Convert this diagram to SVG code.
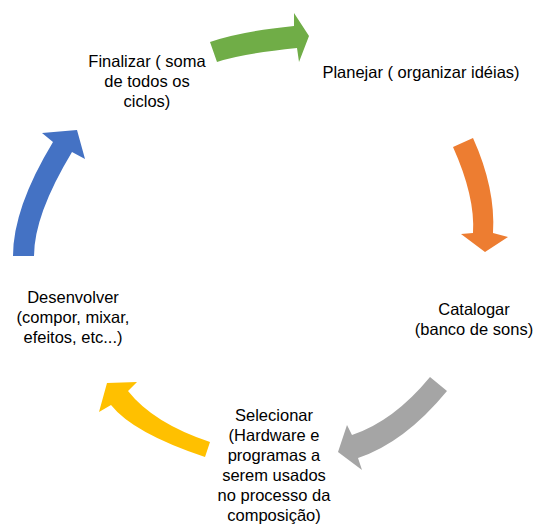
<svg xmlns="http://www.w3.org/2000/svg" width="535" height="524" viewBox="0 0 535 524">
<style>
text{font-family:"Liberation Sans",Arial,sans-serif;font-size:16.5px;fill:#000;text-anchor:middle}
.a{stroke:none}
</style>
<rect width="535" height="524" fill="#fff"/>
<g id="connectors">
<path class="a" fill="#70AD47" d="M210,42 Q240,31.5 294,26 L294,13 L309,36 L299,62 L297,48 Q240.5,53.8 217,62 Z"/>
<path class="a" fill="#ED7D31" d="M453,147 L473,138 Q495.8,188.7 493,233 L508,237 L485,252 L461,234 L473,233 Q475.3,196.6 453,147 Z"/>
<path class="a" fill="#A5A5A5" d="M430,377 L447,391 Q404.5,442.5 358,458 L362,470 L338,452 L347,425 L352,435 Q393.7,421.1 430,377 Z"/>
<path class="a" fill="#FFC000" d="M210,442 L205,457 Q133.1,433 111,405 L99,412 L107,383 L137,382 L128,391 Q153.3,423.1 210,442 Z"/>
<path class="a" fill="#4472C4" d="M13,256 L34,256 Q34,215 72,152 L85,159 L77,130 L42,133 L53,142 Q13,208 13,256 Z"/>
</g>
<g id="planejar"><text x="421" y="78">Planejar ( organizar idéias)</text></g>
<g id="catalogar"><text x="474" y="315">Catalogar</text><text x="474" y="335">(banco de sons)</text></g>
<g id="selecionar"><text x="274" y="421">Selecionar</text><text x="274" y="441">(Hardware e</text><text x="274" y="461">programas a</text><text x="274" y="481">serem usados</text><text x="274" y="501">no processo da</text><text x="274" y="521">composição)</text></g>
<g id="desenvolver"><text x="73" y="303">Desenvolver</text><text x="73" y="323">(compor, mixar,</text><text x="73" y="343">efeitos, etc...)</text></g>
<g id="finalizar"><text x="147" y="67">Finalizar ( soma</text><text x="147" y="87">de todos os</text><text x="147" y="107">ciclos)</text></g>
</svg>
